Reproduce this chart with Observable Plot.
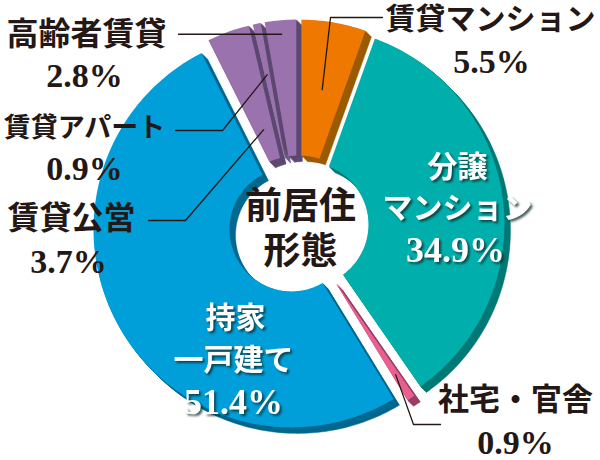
<!DOCTYPE html>
<html><head><meta charset="utf-8">
<script src="https://cdn.jsdelivr.net/npm/d3@7"></script>
<script src="https://cdn.jsdelivr.net/npm/@observablehq/plot@0.6"></script>
<style>
body{margin:0;background:#fff}
g[aria-description="inner-label"]{filter:drop-shadow(2px 2px 1.2px rgba(10,40,40,0.75));}
</style>
</head><body><div id="chart"></div>
<script>
// ---- data ----
const categories = ["賃貸マンション","分譲マンション","社宅・官舎","持家一戸建て","賃貸公営","賃貸アパート","高齢者賃貸"];
const values = [5.5, 34.9, 0.9, 51.4, 3.7, 0.9, 2.8];
const valueLabels = ["5.5%","34.9%","0.9%","51.4%","3.7%","0.9%","2.8%"];
const nameLines = [["賃貸マンション"],["分譲","マンション"],["社宅・官舎"],["持家","一戸建て"],["賃貸公営"],["賃貸アパート"],["高齢者賃貸"]];
const centerTitle = ["前居住","形態"];

// ---- styles ----
const sliceColors  = ["#EE7800","#00AFAC","#E8608F","#009FD9","#9A72AE","#9A72AE","#9A72AE"];
const shadowColors = ["#9A5A00","#007875","#9C3C66","#00678E","#5C4770","#5C4770","#5C4770"];
const ink = "#231815";
const FONT = "'Liberation Serif','Noto Sans CJK JP',serif";

// ---- layout ----
const W = 600, H = 460, CX = 298, CY = 225;
const R = 198, R0 = 62, EXPLODE = 8, HALFGAP = 1.5, SHADOW = 6;

const total = d3.sum(values);
let acc = 0;
const slices = values.map((v, i) => {
  const a0 = acc / total * 2 * Math.PI; acc += v;
  const a1 = acc / total * 2 * Math.PI;
  return {i, a0, a1, mid: (a0 + a1) / 2};
});
function polar(a, r, s) {
  return [r * Math.sin(a) + EXPLODE * Math.sin(s.mid), -r * Math.cos(a) - EXPLODE * Math.cos(s.mid)];
}
function slicePts(s) {
  const pts = [];
  const da = Math.asin(HALFGAP / R);
  const n = Math.max(4, Math.ceil((s.a1 - s.a0) * 180 / Math.PI));
  for (let k = 0; k <= n; k++) {
    const a = s.a0 + da + (s.a1 - s.a0 - 2 * da) * k / n;
    const [x, y] = polar(a, R, s); pts.push({x, y});
  }
  const half = (s.a1 - s.a0) / 2;
  const apex = HALFGAP / Math.sin(half);
  if (apex >= R0) {
    const [x, y] = polar(s.mid, apex, s); pts.push({x, y});
  } else {
    const di = Math.asin(HALFGAP / R0);
    for (let k = 0; k <= n; k++) {
      const a = s.a1 - di - (s.a1 - s.a0 - 2 * di) * k / n;
      const [x, y] = polar(a, R0, s); pts.push({x, y});
    }
  }
  return pts;
}
const px = (x) => x - CX, py = (y) => y - CY;

// outside labels: slice index, anchor radius, elbow, end, name pos, value pos, font size
const outside = [
  {i: 0, r: 130, elbow: [330, 17], endX: 382, name: [490, 19], val: [491, 62], fs: 30},
  {i: 6, r: 184, elbow: null, endX: 178, name: [86, 34], val: [84, 76], fs: 32},
  {i: 5, r: 146, elbow: [222, 130], endX: 175, name: [84, 128], val: [84, 169], fs: 27},
  {i: 4, r: 94,  elbow: [185, 220], endX: 148, name: [71, 218], val: [68, 262], fs: 32},
  {i: 2, r: 170, elbow: [413, 424], endX: 440, name: [515, 400], val: [515, 443], fs: 31}
];
const inside = [
  {i: 1, name: [[457, 167], [457, 208]], val: [455, 250]},
  {i: 3, name: [[235, 318], [233, 360]], val: [233, 402]}
];

const marks = [];
// extruded shadows
for (const s of slices) {
  const pts = slicePts(s);
  for (let k = 1; k <= SHADOW; k++) {
    marks.push(Plot.line(pts, {x: "x", y: "y", fill: shadowColors[s.i], stroke: shadowColors[s.i], strokeWidth: 0.5, dx: k, dy: k}));
  }
}
// slices
for (const s of slices) {
  marks.push(Plot.line(slicePts(s), {x: "x", y: "y", fill: sliceColors[s.i], stroke: "none"}));
}
// leader lines
for (const o of outside) {
  const s = slices[o.i];
  const [ax, ay] = polar(s.mid, o.r, s);
  const pts = [{x: ax, y: ay}];
  let ey = ay;
  if (o.elbow) { pts.push({x: px(o.elbow[0]), y: py(o.elbow[1])}); ey = py(o.elbow[1]); }
  pts.push({x: px(o.endX), y: ey});
  marks.push(Plot.line(pts, {x: "x", y: "y", stroke: ink, strokeWidth: 1.3}));
}
// outside texts
for (const o of outside) {
  marks.push(Plot.text([nameLines[o.i][0]], {x: () => px(o.name[0]), y: () => py(o.name[1]), text: d => d, fontSize: o.fs, fontWeight: "bold", fill: ink, fontFamily: FONT}));
  marks.push(Plot.text([valueLabels[o.i]], {x: () => px(o.val[0]), y: () => py(o.val[1]), text: d => d, fontSize: 34, fontWeight: "bold", fill: ink, fontFamily: FONT}));
}
// inside texts (white with drop shadow via CSS filter)
for (const t of inside) {
  const rows = nameLines[t.i].map((line, j) => ({line, p: t.name[j], fs: 30}));
  rows.push({line: valueLabels[t.i], p: t.val, fs: 36});
  marks.push(Plot.text(rows, {x: d => px(d.p[0]), y: d => py(d.p[1]), text: "line", fontSize: d => d.fs, fontWeight: "bold", fill: "#ffffff", fontFamily: FONT, ariaDescription: "inner-label"}));
}
// center title
marks.push(Plot.text(centerTitle, {x: () => px(300), y: (d, j) => py(207 + j * 45), text: d => d, fontSize: 37, fontWeight: "bold", fill: ink, fontFamily: FONT}));

const chart = Plot.plot({
  width: W, height: H, margin: 0,
  x: {domain: [-CX, W - CX], range: [0, W], axis: null},
  y: {domain: [-CY, H - CY], range: [0, H], axis: null},
  style: {fontFamily: FONT, background: "#fff"},
  marks
});
document.getElementById("chart").appendChild(chart);
</script>
</body></html>
